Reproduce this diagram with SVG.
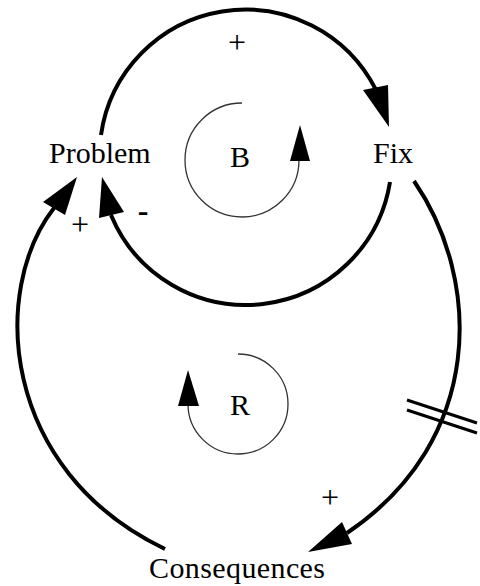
<svg xmlns="http://www.w3.org/2000/svg" width="480" height="586" viewBox="0 0 480 586">
<style>
.lbl{font-family:"Liberation Serif","Times New Roman",serif;font-size:30px;fill:#000}
.sgn{font-family:"Liberation Serif","Times New Roman",serif;font-size:32px;fill:#000;text-anchor:middle}
.arc{fill:none;stroke:#000;stroke-width:4}
.thin{fill:none;stroke:#333;stroke-width:1.3}
.head{fill:#000}
</style>
<rect width="480" height="586" fill="#fff"/>
<g id="connectors">
  <path class="arc" d="M101 135 A146 146 0 0 1 376 90"/>
  <polygon class="head" points="363,90 388,85 389,127"/>
  <path class="arc" d="M390 182 A146 146 0 0 1 111 215"/>
  <polygon class="head" points="102,177 99,218 124,212"/>
  <path class="arc" d="M414 181 C482 280 485 440 347 533"/>
  <polygon class="head" points="308,552 342,522 352,544"/>
  <path class="arc" d="M165 549 C0 470 -10 290 54 208"/>
  <polygon class="head" points="77,177 43,202 65,215"/>
  <line x1="407" y1="400" x2="477" y2="423" stroke="#000" stroke-width="3"/>
  <line x1="407" y1="410" x2="477" y2="433" stroke="#000" stroke-width="3"/>
</g>
<g id="loop-B">
  <path class="thin" d="M242 103 A57 57 0 1 0 299 160"/>
  <polygon class="head" points="290,161 310,161 300,125"/>
  <text class="lbl" x="240" y="167" text-anchor="middle">B</text>
</g>
<g id="loop-R">
  <path class="thin" d="M238 354 A50 50 0 1 1 188 404"/>
  <polygon class="head" points="178,406 199,406 188,370"/>
  <text class="lbl" x="240" y="415" text-anchor="middle">R</text>
</g>
<g id="node-problem"><text class="lbl" x="49" y="163">Problem</text></g>
<g id="node-fix"><text class="lbl" x="373" y="163">Fix</text></g>
<g id="node-consequences"><text class="lbl" x="149" y="578" textLength="176">Consequences</text></g>
<g id="signs">
  <text class="sgn" x="237" y="53">+</text>
  <text class="sgn" x="80" y="235">+</text>
  <text class="sgn" x="143" y="221" font-size="40" font-weight="bold">-</text>
  <text class="sgn" x="330" y="508">+</text>
</g>
</svg>
